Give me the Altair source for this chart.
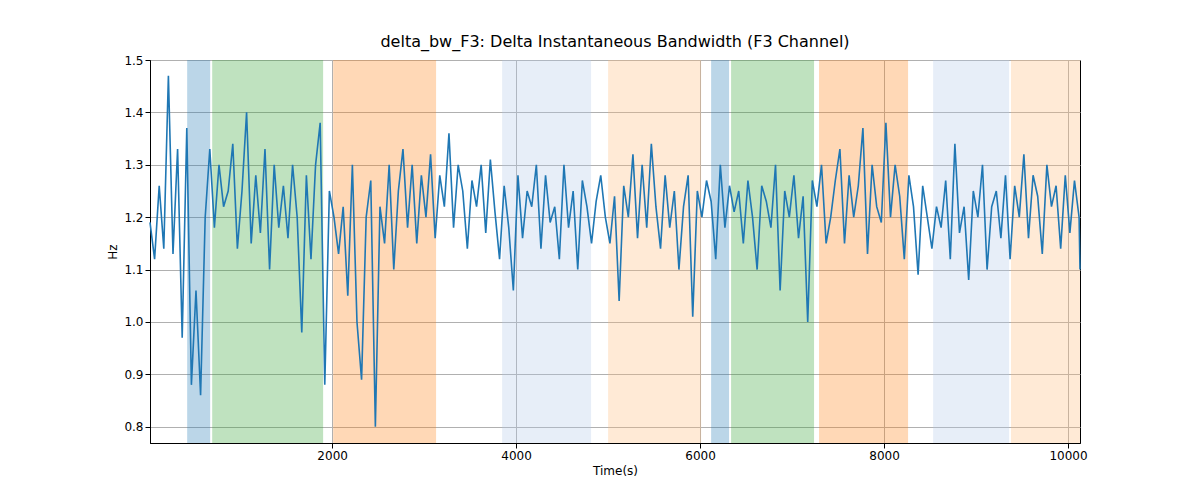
import altair as alt
import pandas as pd

span_start = [424, 696, 2011, 3848, 5000, 6120, 6337, 7293, 8533, 9380]
span_end = [674, 1902, 3130, 4815, 6011, 6315, 7239, 8261, 9359, 10130]
span_color = ["#1f77b4", "#2ca02c", "#ff7f0e", "#aec7e8", "#ffbb78",
              "#1f77b4", "#2ca02c", "#ff7f0e", "#aec7e8", "#ffbb78"]
span_opacity = [0.3, 0.3, 0.3, 0.3, 0.3, 0.3, 0.3, 0.3, 0.3, 0.3]

bw = [
    1.19, 1.12, 1.26, 1.14, 1.47, 1.13, 1.33, 0.97, 1.37, 0.88,
    1.06, 0.86, 1.20, 1.33, 1.18, 1.30, 1.22, 1.25, 1.34, 1.14,
    1.25, 1.40, 1.15, 1.28, 1.17, 1.33, 1.10, 1.30, 1.18, 1.26,
    1.16, 1.30, 1.20, 0.98, 1.28, 1.12, 1.30, 1.38, 0.88, 1.25,
    1.20, 1.13, 1.22, 1.05, 1.30, 1.00, 0.89, 1.20, 1.27, 0.80,
    1.22, 1.15, 1.30, 1.10, 1.25, 1.33, 1.18, 1.30, 1.15, 1.28,
    1.20, 1.32, 1.16, 1.28, 1.22, 1.36, 1.18, 1.30, 1.25, 1.14,
    1.27, 1.22, 1.30, 1.17, 1.31, 1.21, 1.12, 1.26, 1.18, 1.06,
    1.28, 1.16, 1.25, 1.22, 1.30, 1.14, 1.28, 1.19, 1.22, 1.12,
    1.30, 1.18, 1.25, 1.10, 1.27, 1.22, 1.15, 1.23, 1.28, 1.20,
    1.15, 1.24, 1.04, 1.26, 1.20, 1.32, 1.16, 1.30, 1.18, 1.34,
    1.22, 1.14, 1.28, 1.18, 1.25, 1.10, 1.22, 1.28, 1.01, 1.25,
    1.20, 1.27, 1.23, 1.12, 1.30, 1.18, 1.26, 1.21, 1.25, 1.15,
    1.27, 1.20, 1.10, 1.26, 1.23, 1.18, 1.30, 1.06, 1.25, 1.20,
    1.28, 1.16, 1.24, 1.00, 1.27, 1.22, 1.30, 1.15, 1.20, 1.27,
    1.33, 1.15, 1.28, 1.20, 1.26, 1.37, 1.13, 1.30, 1.22, 1.19,
    1.38, 1.20, 1.30, 1.24, 1.12, 1.28, 1.22, 1.09, 1.26, 1.20,
    1.14, 1.22, 1.18, 1.27, 1.12, 1.34, 1.17, 1.22, 1.08, 1.25,
    1.20, 1.30, 1.10, 1.22, 1.25, 1.16, 1.28, 1.12, 1.26, 1.20,
    1.32, 1.16, 1.28, 1.24, 1.13, 1.30, 1.22, 1.26, 1.14, 1.28,
    1.17, 1.27, 1.20, 1.10,
]
times = [20 + 50 * i for i in range(len(bw))]
times[-1] = 10130

xs = alt.Scale(domain=[20, 10130], nice=False, zero=False)
ys = alt.Scale(domain=[0.769, 1.5], nice=False, zero=False)

spans = pd.DataFrame({"start": span_start, "end": span_end,
                      "color": span_color, "opacity": span_opacity})
line_df = pd.DataFrame({"t": times, "bw": bw})

rects = alt.Chart(spans).mark_rect().encode(
    x=alt.X("start:Q", scale=xs),
    x2="end:Q",
    y=alt.value(0),
    y2=alt.value(383),
    color=alt.Color("color:N", scale=None),
    opacity=alt.Opacity("opacity:Q", scale=None),
)

line = alt.Chart(line_df).mark_line(color="#1f77b4", strokeWidth=1.6).encode(
    x=alt.X("t:Q", scale=xs, title="Time(s)",
            axis=alt.Axis(values=[2000, 4000, 6000, 8000, 10000], grid=True,
                          gridColor="#b0b0b0", format="d")),
    y=alt.Y("bw:Q", scale=ys, title="Hz",
            axis=alt.Axis(values=[0.8, 0.9, 1.0, 1.1, 1.2, 1.3, 1.4, 1.5],
                          format=".1f", grid=True, gridColor="#b0b0b0")),
)

chart = (
    alt.layer(rects, line)
    .properties(
        width=930, height=383,
        title=alt.TitleParams("delta_bw_F3: Delta Instantaneous Bandwidth (F3 Channel)",
                              fontSize=16, fontWeight="normal", font="DejaVu Sans"),
        autosize=alt.AutoSizeParams(type="none"),
        padding={"left": 142, "top": 52, "right": 20, "bottom": 50},
    )
    .configure_view(stroke="black", strokeWidth=1)
    .configure_axis(labelFont="DejaVu Sans", titleFont="DejaVu Sans", labelFontSize=12,
                    titleFontSize=12, titleFontWeight="normal", domainColor="black",
                    tickColor="black", labelColor="black", titleColor="black")
)

chart.save("out.html", embed_options={"renderer": "svg", "actions": False})
